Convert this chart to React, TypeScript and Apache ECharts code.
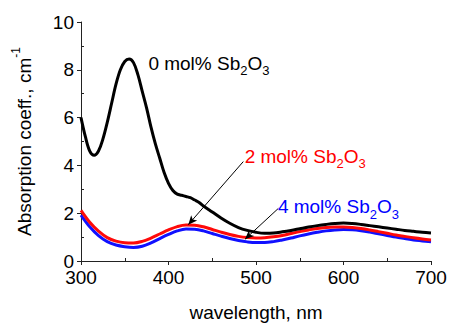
import React, { useEffect, useRef } from 'react';
import * as echarts from 'echarts';

const wlUndoped = [300, 305, 310, 315, 320, 325, 330, 335, 340, 345, 350, 355, 360, 365, 370, 375, 380, 385, 390, 395, 400, 405, 410, 415, 420, 425, 430, 435, 440, 450, 460, 470, 480, 490, 500, 510, 520, 530, 540, 550, 560, 570, 580, 590, 600, 610, 620, 630, 640, 650, 660, 670, 680, 690, 700];
const abs0mol = [6.0, 5.2, 4.6, 4.42, 4.6, 5.1, 5.8, 6.6, 7.4, 8.0, 8.35, 8.45, 8.3, 7.8, 7.1, 6.4, 5.6, 4.9, 4.3, 3.7, 3.25, 2.95, 2.8, 2.75, 2.7, 2.65, 2.55, 2.45, 2.3, 2.05, 1.8, 1.58, 1.4, 1.28, 1.2, 1.16, 1.17, 1.22, 1.28, 1.35, 1.42, 1.48, 1.53, 1.57, 1.59, 1.57, 1.53, 1.48, 1.43, 1.38, 1.33, 1.28, 1.24, 1.2, 1.17];

const wlDoped = [300, 310, 320, 330, 340, 350, 360, 370, 380, 390, 400, 410, 420, 430, 440, 450, 460, 470, 480, 490, 500, 510, 520, 530, 540, 550, 560, 570, 580, 590, 600, 610, 620, 630, 640, 650, 660, 670, 680, 690, 700];
const abs2mol = [2.12, 1.62, 1.25, 0.98, 0.83, 0.76, 0.75, 0.82, 0.96, 1.13, 1.3, 1.44, 1.51, 1.5, 1.43, 1.32, 1.21, 1.11, 1.03, 0.98, 0.96, 0.97, 1.01, 1.07, 1.15, 1.23, 1.3, 1.36, 1.4, 1.42, 1.42, 1.4, 1.36, 1.3, 1.23, 1.16, 1.09, 1.03, 0.97, 0.92, 0.88];
const abs4mol = [1.92, 1.43, 1.06, 0.81, 0.67, 0.6, 0.57, 0.62, 0.76, 0.94, 1.11, 1.26, 1.34, 1.33, 1.26, 1.15, 1.04, 0.94, 0.86, 0.8, 0.77, 0.77, 0.81, 0.88, 0.96, 1.05, 1.13, 1.2, 1.26, 1.3, 1.32, 1.31, 1.27, 1.21, 1.14, 1.07, 1.0, 0.94, 0.88, 0.84, 0.8];

const xTickValues = [300, 400, 500, 600, 700];
const yTickValues = [0, 2, 4, 6, 8, 10];

const labelTexts = ['0 mol% Sb', '2 mol% Sb', '4 mol% Sb'];
const labelColors = ['#000000', '#ff0000', '#0000ff'];
const labelAnchors = [[377, 8.0], [487, 4.1], [525, 2.0]];

const arrowStarts = [[485.5, 4.16], [525.5, 2.2]];
const arrowEnds = [[422.6, 1.52], [487.4, 0.91]];

const FONT = 'Liberation Sans, Arial, Helvetica, sans-serif';

export default function App() {
  const ref = useRef<HTMLDivElement>(null);
  useEffect(() => {
    document.body.style.margin = '0';
    const chart = echarts.init(ref.current!, null, { renderer: 'svg' });
    const xMin = xTickValues[0];
    const xMax = xTickValues[xTickValues.length - 1];
    const xInt = xTickValues[1] - xTickValues[0];
    const yMin = yTickValues[0];
    const yMax = yTickValues[yTickValues.length - 1];
    const yInt = yTickValues[1] - yTickValues[0];
    const axisColor = '#222';
    const mainX = {
      type: 'value', min: xMin, max: xMax, interval: xInt, position: 'bottom',
      gridIndex: 0,
      name: 'wavelength, nm', nameLocation: 'middle', nameGap: 42,
      nameTextStyle: { fontSize: 19, fontFamily: FONT, color: '#000' },
      axisLine: { show: true, lineStyle: { color: axisColor, width: 1 } },
      axisTick: { show: true, inside: false, length: 4, lineStyle: { color: axisColor } },
      minorTick: { show: false },
      axisLabel: { fontSize: 19, fontFamily: FONT, color: '#000', margin: 7 },
      splitLine: { show: false },
    };
    const minorX = {
      type: 'value', min: xMin, max: xMax, interval: xInt, position: 'bottom', gridIndex: 0,
      axisLine: { show: false }, axisLabel: { show: false },
      axisTick: { show: false, inside: true, length: 3 },
      minorTick: { show: true, splitNumber: 2, length: 3, lineStyle: { color: axisColor } },
      splitLine: { show: false },
    };
    const mainY = {
      type: 'value', min: yMin, max: yMax, interval: yInt, position: 'left', gridIndex: 0,
      name: '{m|Absorption coeff., cm}{sup|-1}', nameLocation: 'middle', nameGap: 43,
      nameTextStyle: {
        fontSize: 19, fontFamily: FONT, color: '#000',
        rich: {
          m: { fontSize: 19, fontFamily: FONT, color: '#000', lineHeight: 28 },
          sup: { fontSize: 12, fontFamily: FONT, color: '#000', lineHeight: 10, verticalAlign: 'top' },
        },
      },
      axisLine: { show: true, lineStyle: { color: axisColor, width: 1 } },
      axisTick: { show: true, inside: false, length: 4, lineStyle: { color: axisColor } },
      minorTick: { show: false },
      axisLabel: { fontSize: 19, fontFamily: FONT, color: '#000', margin: 7 },
      splitLine: { show: false },
    };
    const minorY = {
      type: 'value', min: yMin, max: yMax, interval: yInt, position: 'left', gridIndex: 0,
      axisLine: { show: false }, axisLabel: { show: false },
      axisTick: { show: false, inside: true, length: 3 },
      minorTick: { show: true, splitNumber: 2, length: 3, lineStyle: { color: axisColor } },
      splitLine: { show: false },
    };
    const mk = (xs: number[], ys: number[]) => xs.map((x, i) => [x, ys[i]]);
    chart.setOption({
      animation: false,
      grid: { left: 81, right: 20, top: 22, bottom: 58, containLabel: false },
      xAxis: [mainX, minorX],
      yAxis: [mainY, minorY],
      series: [
        {
          name: '4 mol%', type: 'line', xAxisIndex: 0, yAxisIndex: 0,
          data: mk(wlDoped, abs4mol), showSymbol: false, smooth: 0.35,
          lineStyle: { color: '#1010ff', width: 3 }, z: 2,
        },
        {
          name: '2 mol%', type: 'line', xAxisIndex: 0, yAxisIndex: 0,
          data: mk(wlDoped, abs2mol), showSymbol: false, smooth: 0.35,
          lineStyle: { color: '#ff0a0a', width: 3 }, z: 3,
        },
        {
          name: '0 mol%', type: 'line', xAxisIndex: 0, yAxisIndex: 0,
          data: mk(wlUndoped, abs0mol), showSymbol: false, smooth: 0.35,
          lineStyle: { color: '#000', width: 3 }, z: 4,
          markLine: {
            silent: true, symbol: ['none', 'arrow'], symbolSize: [6, 9],
            label: { show: false },
            lineStyle: { color: '#000', width: 1, type: 'solid' },
            emphasis: { disabled: true },
            data: arrowStarts.map((s, i) => [{ coord: s }, { coord: arrowEnds[i] }]),
          },
        },
      ],
    });
    const graphics = labelTexts.map((t, i) => {
      const p = chart.convertToPixel({ gridIndex: 0 }, labelAnchors[i]) as number[];
      const c = labelColors[i];
      return {
        type: 'text', x: p[0], y: p[1] - 20.6, z: 10,
        style: {
          text: `{m|${t}}{s|2}{m|O}{s|3}`,
          align: 'left', verticalAlign: 'top', fill: c, fontFamily: FONT, fontSize: 19,
          rich: {
            m: { fontSize: 19, fontFamily: FONT, fill: c, lineHeight: 28 },
            s: { fontSize: 13, fontFamily: FONT, fill: c, lineHeight: 4, verticalAlign: 'bottom' },
          },
        },
      };
    });
    chart.setOption({ graphic: graphics });
    return () => chart.dispose();
  }, []);
  return <div ref={ref} style={{ width: 451, height: 327, position: 'absolute', left: 0, top: 0 }} />;
}
